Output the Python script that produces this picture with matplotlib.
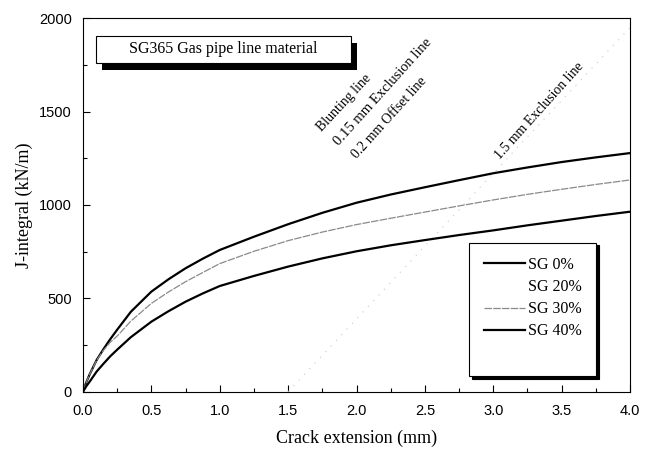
import numpy as np
import matplotlib.pyplot as plt
from matplotlib.lines import Line2D
from matplotlib.patches import Rectangle

# ── Data ──────────────────────────────────────────────────────────────────────
crack_mm = [0, 0.025, 0.05, 0.1, 0.15, 0.2, 0.25, 0.35, 0.5, 0.625, 0.75, 0.875,
            1.0, 1.25, 1.5, 1.75, 2.0, 2.25, 2.5, 2.75, 3.0, 3.25, 3.5, 3.75, 4.0]

j_sg0  = [0, 52, 95, 170, 228, 282, 332, 428, 536, 602, 661, 712,
          759, 830, 897, 958, 1012, 1056, 1095, 1133, 1170, 1201, 1230, 1255, 1278]
j_sg20 = list(j_sg0)
j_sg30 = [0, 52, 95, 168, 222, 265, 298, 378, 473, 534, 589, 638,
          686, 752, 809, 855, 895, 929, 962, 995, 1027, 1057, 1084, 1110, 1134]
j_sg40 = [0, 30, 55, 108, 150, 190, 225, 292, 375, 431, 482, 526,
          566, 620, 670, 714, 752, 784, 812, 839, 864, 891, 916, 941, 964]

excl_x = [1.5, 4.0]
excl_j = [0, 1950]

labels = ['SG 0%', 'SG 20%', 'SG 30%', 'SG 40%']

SERIF = ['Liberation Serif', 'DejaVu Serif']
SANS = ['Liberation Sans', 'DejaVu Sans']

# ── Figure ────────────────────────────────────────────────────────────────────
fig = plt.figure(figsize=(6.57, 4.51), dpi=100)
ax = fig.add_axes([0.1263, 0.1315, 0.8327, 0.828])

ax.plot(excl_x, excl_j, color='#c8c8c8', lw=0.8, ls=(0, (1, 6)))

ax.plot(crack_mm, j_sg0, color='black', lw=1.6, label=labels[0])
ax.plot(crack_mm, j_sg20, color='white', lw=0.8, label=labels[1], alpha=0.0)
ax.plot(crack_mm, j_sg30, color='#8a8a8a', lw=0.9, ls=(0, (6, 1)), label=labels[2])
ax.plot(crack_mm, j_sg40, color='black', lw=1.6, label=labels[3])

ax.set_xlim(0, 4.0)
ax.set_ylim(0, 2000)
ax.set_xticks(np.arange(0, 4.01, 0.5))
ax.set_xticks(np.arange(0, 4.01, 0.25), minor=True)
ax.set_yticks(np.arange(0, 2001, 500))
ax.set_yticks(np.arange(0, 2001, 250), minor=True)
ax.tick_params(which='both', direction='in', top=False, right=False)
ax.tick_params(which='major', length=5, width=0.8)
ax.tick_params(which='minor', length=3, width=0.8)
ax.tick_params(axis='x', pad=9)
ax.tick_params(axis='y', pad=8)
ax.set_xticklabels([f'{v:.1f}' for v in np.arange(0, 4.01, 0.5)], family=SANS, fontsize=10.5)
ax.set_yticklabels([f'{v:d}' for v in range(0, 2001, 500)], family=SANS, fontsize=10.5)

ax.set_xlabel('Crack extension (mm)', family=SERIF, fontsize=13, labelpad=8)
ax.set_ylabel('J-integral (kN/m)', family=SERIF, fontsize=13, labelpad=4)

# title box with drop shadow
ax.add_patch(Rectangle((0.034, 0.862), 0.466, 0.072, transform=ax.transAxes,
                       facecolor='black', edgecolor='none', zorder=4))
ax.add_patch(Rectangle((0.024, 0.880), 0.466, 0.073, transform=ax.transAxes,
                       facecolor='white', edgecolor='black', lw=0.8, zorder=5))
ax.text(0.257, 0.9165, 'SG365 Gas pipe line material', transform=ax.transAxes,
        ha='center', va='center', family=SERIF, fontsize=11.5, zorder=6)

# construction-line annotations
ax.text(1.91, 1545, 'Blunting line', rotation=47, family=SERIF, fontsize=10,
        ha='center', va='center', rotation_mode='anchor')
ax.text(2.19, 1607, '0.15 mm Exclusion line', rotation=48, family=SERIF, fontsize=10.5,
        ha='center', va='center', rotation_mode='anchor')
ax.text(2.24, 1467, '0.2 mm Offset line', rotation=48, family=SERIF, fontsize=10,
        ha='center', va='center', rotation_mode='anchor')
ax.text(3.34, 1506, '1.5 mm Exclusion line', rotation=48, family=SERIF, fontsize=10,
        ha='center', va='center', rotation_mode='anchor')

# legend (a blank row gives the tall box of the original)
handles, labs = ax.get_legend_handles_labels()
handles[1] = Line2D([], [], color='white', lw=0)
blank = Line2D([], [], color='none', lw=0)
leg = ax.legend(handles + [blank], labs + [' '],
                loc='upper left', bbox_to_anchor=(0.706, 0.399), borderaxespad=0,
                prop={'family': SERIF, 'size': 11.5}, handlelength=2.6,
                handletextpad=0.2, labelspacing=0.38, borderpad=0.9,
                fancybox=False, shadow={'color': 'black', 'alpha': 1.0},
                framealpha=1.0, edgecolor='black')
leg.get_frame().set_linewidth(0.8)

plt.savefig('out.png', dpi=100)
